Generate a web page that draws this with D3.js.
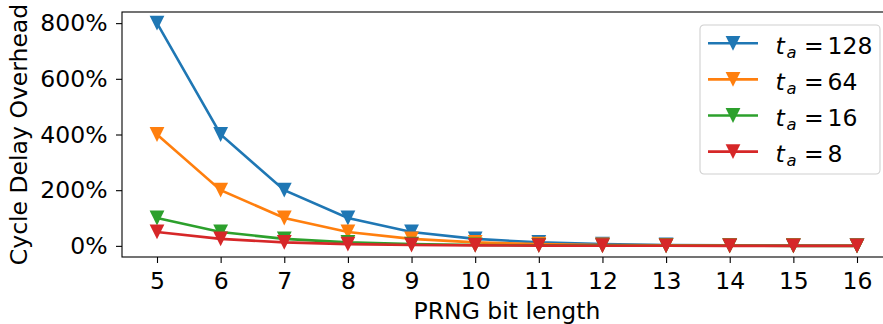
<!DOCTYPE html>
<html>
<head>
<meta charset="utf-8">
<script src="https://cdn.jsdelivr.net/npm/d3@7"></script>
<style>
  body { margin: 0; background: #fff; }
  svg { display: block; font-family: "DejaVu Sans", sans-serif; }
</style>
</head>
<body>
<div id="chart"></div>
<script>
// PRNG bit lengths on the x axis
const bitLengths = [5, 6, 7, 8, 9, 10, 11, 12, 13, 14, 15, 16];

// overhead in percent
const overhead128 = [800, 400, 200, 100, 50, 25, 12.5, 6.25, 3.1, 1.6, 0.8, 0.4];
const overhead64  = [400, 200, 100, 50, 25, 12.5, 6.25, 3.1, 1.6, 0.8, 0.4, 0.2];
const overhead16  = [100, 50, 25, 12.5, 6.25, 3.1, 1.6, 0.8, 0.4, 0.2, 0.1, 0.05];
const overhead8   = [50, 25, 12.5, 6.25, 3.1, 1.6, 0.8, 0.4, 0.2, 0.1, 0.05, 0.02];

const seriesNames = ["128", "64", "16", "8"];
const yTicks = [0, 200, 400, 600, 800];

const series = [
    { name: seriesNames[0], values: overhead128, color: "#1f77b4" },
    { name: seriesNames[1], values: overhead64, color: "#ff7f0e" },
    { name: seriesNames[2], values: overhead16, color: "#2ca02c" },
    { name: seriesNames[3], values: overhead8, color: "#d62728" }
];

const width = 883, height = 324;
// right edge of the axes falls just outside the picture, like the original
const margin = { top: 12, right: -9, bottom: 67, left: 122 };
const fontSize = 23.5;
const legendFont = 23.5;

const svg = d3.select("#chart").append("svg")
    .attr("width", width)
    .attr("height", height);

const x = d3.scaleLinear()
    .domain([4.45, 16.55])
    .range([margin.left, width - margin.right]);

const y = d3.scaleLinear()
    .domain([-40, 840])
    .range([height - margin.bottom, margin.top]);

// axes
const xAxis = svg.append("g")
    .attr("transform", `translate(0,${height - margin.bottom})`)
    .call(d3.axisBottom(x).tickValues(bitLengths).tickSize(6).tickPadding(9).tickFormat(d3.format("d")));

const yAxis = svg.append("g")
    .attr("transform", `translate(${margin.left},0)`)
    .call(d3.axisLeft(y).tickValues(yTicks).tickSize(6).tickPadding(8.5).tickFormat(d => d + "%"));

[xAxis, yAxis].forEach(g => {
    g.select(".domain").remove();
    g.selectAll("line").attr("stroke", "#000").attr("stroke-width", 1.1);
    g.selectAll("text").attr("fill", "#000").style("font-size", fontSize + "px").style("font-family", "DejaVu Sans");
});

// frame
svg.append("rect")
    .attr("x", margin.left)
    .attr("y", margin.top)
    .attr("width", x.range()[1] - margin.left)
    .attr("height", height - margin.bottom - margin.top)
    .attr("fill", "none")
    .attr("stroke", "#000")
    .attr("stroke-width", 1.1);

// axis titles
svg.append("text")
    .attr("x", (margin.left + x.range()[1]) / 2)
    .attr("y", 319)
    .attr("text-anchor", "middle")
    .style("font-size", fontSize + "px")
    .text("PRNG bit length");

svg.append("text")
    .attr("transform", `translate(27,${(margin.top + height - margin.bottom) / 2}) rotate(-90)`)
    .attr("text-anchor", "middle")
    .style("font-size", fontSize + "px")
    .text("Cycle Delay Overhead");

// lines and markers
const line = d3.line()
    .x((d, i) => x(bitLengths[i]))
    .y(d => y(d));

// matplotlib style "v" marker: as tall as it is wide, centred on the point
const h = 7.4;
const triDown = `M${-h},${-h}L${h},${-h}L0,${h}Z`;

series.forEach(s => {
    const g = svg.append("g");
    g.append("path")
        .datum(s.values)
        .attr("d", line)
        .attr("fill", "none")
        .attr("stroke", s.color)
        .attr("stroke-width", 2.6);
    g.selectAll("path.mark")
        .data(s.values)
        .join("path")
        .attr("class", "mark")
        .attr("transform", (d, i) => `translate(${x(bitLengths[i])},${y(d)})`)
        .attr("d", triDown)
        .attr("fill", s.color);
});

// legend
const legend = svg.append("g").attr("transform", "translate(700,25)");
legend.append("rect")
    .attr("width", 180)
    .attr("height", 149)
    .attr("rx", 4)
    .attr("fill", "#fff")
    .attr("fill-opacity", 0.8)
    .attr("stroke", "#d0d0d0")
    .attr("stroke-width", 1.1);

series.forEach((s, i) => {
    const ly = 18.3 + i * 36.1;
    legend.append("line")
        .attr("x1", 8).attr("x2", 58)
        .attr("y1", ly).attr("y2", ly)
        .attr("stroke", s.color)
        .attr("stroke-width", 2.6);
    legend.append("path")
        .attr("transform", `translate(33,${ly})`)
        .attr("d", triDown)
        .attr("fill", s.color);
    const base = ly + 10.7;
    const t = legend.append("text")
        .style("font-size", legendFont + "px");
    t.append("tspan").attr("x", 75.5).attr("y", base)
        .style("font-style", "italic").text("t");
    t.append("tspan").attr("x", 86.5).attr("y", base + 3.5)
        .style("font-style", "italic").style("font-size", (legendFont * 0.7) + "px").text("a");
    t.append("tspan").attr("x", 104).attr("y", base).text("=");
    t.append("tspan").attr("x", 127.5).attr("y", base).text(s.name);
});
</script>
</body>
</html>
